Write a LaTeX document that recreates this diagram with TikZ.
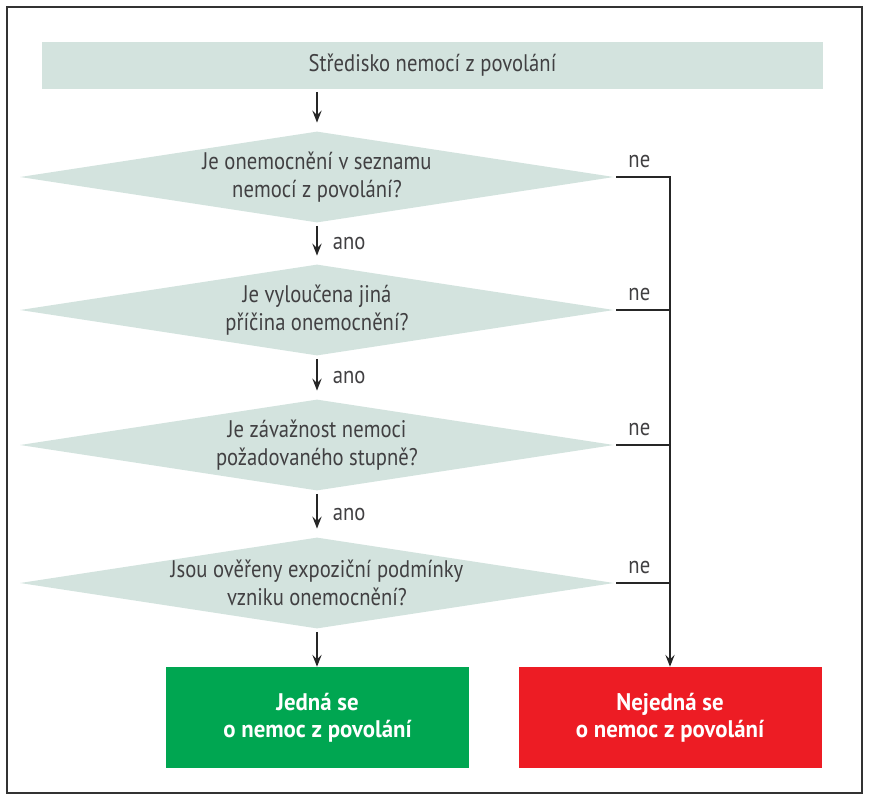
\documentclass[tikz,border=0pt]{standalone}
\usepackage{fontspec}
\setmainfont{PT Sans}[FakeStretch=0.86]
\newfontfamily\resultfont{PT Sans}[FakeStretch=0.95]
\usetikzlibrary{shapes.geometric,arrows.meta}
\definecolor{boxgrey}{HTML}{D3E3DE}
\definecolor{textgrey}{HTML}{414042}
\definecolor{yesgreen}{HTML}{00A651}
\definecolor{nored}{HTML}{ED1C24}
\begin{document}
\begin{tikzpicture}[x=0.75pt, y=-0.75pt,
    every node/.style={text=textgrey, font=\fontsize{18}{21}\selectfont},
    topbox/.style={rectangle, fill=boxgrey, minimum width=585.75pt, minimum height=35.25pt, inner sep=0pt},
    question/.style={diamond, fill=boxgrey, aspect=6.5, inner sep=0pt, align=center,
        minimum width=445.5pt, minimum height=68.25pt},
    result/.style={rectangle, minimum width=227.25pt, minimum height=75.75pt, align=center,
        text=white, font=\resultfont\fontsize{18}{20.5}\selectfont\bfseries},
    flow/.style={draw=black!85, line width=1pt, -{Stealth[length=9pt, width=7pt, inset=3.5pt]}},
    noline/.style={draw=black!85, line width=1pt, shorten <=1.5pt},
    nolabel/.style={above, yshift=3pt, pos=0.45}]
    \useasboundingbox (0,0) rectangle (871,800);
    % Frame
    \draw [line width=1.4pt, black!80] (7,7) rectangle (862,793);
    % Boxes
    \node [topbox] (centre) at (432.5,65) {Středisko nemocí z povolání};
    \node [question] (q1) at (317,177) {Je onemocnění v seznamu\\nemocí z povolání?};
    \node [question] (q2) at (317,310) {Je vyloučena jiná\\příčina onemocnění?};
    \node [question] (q3) at (317,445) {Je závažnost nemoci\\požadovaného stupně?};
    \node [question] (q4) at (317,583) {Jsou ověřeny expoziční podmínky\\vzniku onemocnění?};
    \node [result, fill=yesgreen] (yes) at (317.5,717.5) {Jedná se\\o nemoc z povolání};
    \node [result, fill=nored] (no) at (670,717.5) {Nejedná se\\o nemoc z povolání};
    % Arrows down
    \draw [flow, shorten <=2.25pt, shorten >=6.5pt] (q1.north |- centre.south) -- (q1.north);
    \draw [flow, shorten <=2.25pt, shorten >=6.5pt] (q1.south) -- node [right, xshift=8pt] {ano} (q2.north);
    \draw [flow, shorten <=2.25pt, shorten >=6.5pt] (q2.south) -- node [right, xshift=8pt] {ano} (q3.north);
    \draw [flow, shorten <=2.25pt, shorten >=6.5pt] (q3.south) -- node [right, xshift=8pt] {ano} (q4.north);
    \draw [flow, shorten <=2.25pt] (q4.south) -- (q4.south |- yes.north);
    % Lines to the right
    \draw [flow, shorten <=1.5pt] (q1.east) -- node [nolabel] {ne} (q1.east -| no.north) -- (no.north);
    \foreach \q in {q2,q3,q4}
    {
    \draw [noline] (\q.east) -- node [nolabel] {ne} (\q.east -| no.north);
    }
\end{tikzpicture}
\end{document}
